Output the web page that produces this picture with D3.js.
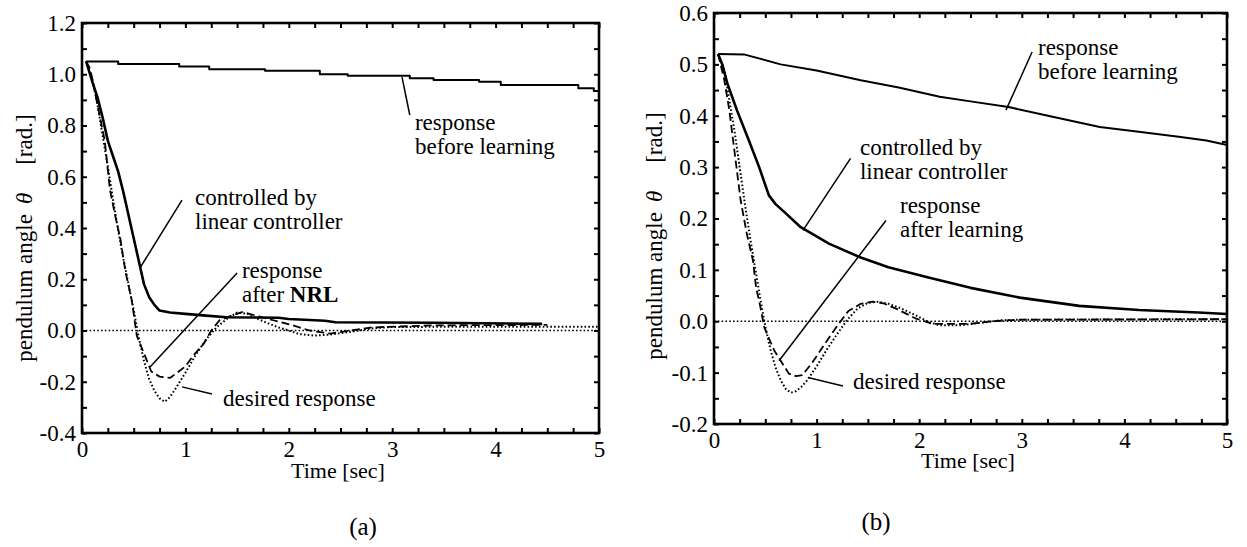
<!DOCTYPE html>
<html>
<head>
<meta charset="utf-8">
<script src="https://cdn.jsdelivr.net/npm/d3@7"></script>
<style>
  html, body { margin: 0; padding: 0; background: #fff; }
  svg { display: block; }
</style>
</head>
<body>
<div id="chart"></div>
<script>
// ---------------- DATA (time [sec], angle [rad.]) ----------------
// Panel (a)
const aBeforeLearning = [[0.04,1.05],[0.35,1.04],[0.94,1.03],[1.23,1.02],[1.77,1.014],[2.3,1.0],[2.57,0.994],[3.17,0.984],[3.4,0.978],[3.84,0.971],[4.05,0.958],[4.8,0.945],[4.95,0.935],[5.0,0.93]];
const aLinearController = [[0.04,1.05],[0.1,0.97],[0.15,0.91],[0.2,0.83],[0.25,0.74],[0.3,0.68],[0.35,0.62],[0.4,0.54],[0.45,0.45],[0.5,0.36],[0.55,0.27],[0.6,0.18],[0.65,0.13],[0.7,0.10],[0.75,0.078],[0.85,0.07],[1.0,0.065],[1.2,0.058],[1.4,0.052],[1.9,0.05],[2.0,0.045],[2.35,0.038],[2.45,0.032],[3.4,0.03],[4.45,0.026]];
const aAfterNRL = [[0.04,1.05],[0.08,1.02],[0.14,0.9],[0.22,0.74],[0.27,0.55],[0.32,0.45],[0.37,0.36],[0.42,0.23],[0.48,0.12],[0.53,-0.02],[0.6,-0.09],[0.67,-0.16],[0.75,-0.18],[0.85,-0.185],[0.92,-0.165],[1.0,-0.14],[1.08,-0.096],[1.18,-0.05],[1.25,0.0],[1.33,0.04],[1.46,0.06],[1.55,0.072],[1.72,0.054],[1.85,0.04],[2.04,0.02],[2.2,0.0],[2.4,-0.012],[2.6,0.0],[2.8,0.012],[3.4,0.02],[4.5,0.022]];
const aDesired = [[0.04,1.05],[0.1,0.98],[0.15,0.88],[0.2,0.76],[0.25,0.64],[0.3,0.51],[0.35,0.39],[0.4,0.28],[0.45,0.18],[0.5,0.08],[0.55,-0.03],[0.6,-0.12],[0.65,-0.19],[0.7,-0.235],[0.75,-0.265],[0.8,-0.278],[0.85,-0.26],[0.9,-0.23],[1.0,-0.165],[1.1,-0.095],[1.2,-0.035],[1.3,0.012],[1.4,0.045],[1.5,0.07],[1.6,0.065],[1.7,0.045],[1.8,0.028],[1.9,0.012],[2.0,0.0],[2.1,-0.014],[2.25,-0.02],[2.4,-0.016],[2.6,-0.005],[2.8,0.008],[3.0,0.014],[5.0,0.015]];
const aZero = [[0,0],[5,0]];

// Panel (b)
const bBeforeLearning = [[0.04,0.52],[0.3,0.519],[0.65,0.5],[1.0,0.488],[1.43,0.469],[1.8,0.455],[2.2,0.437],[2.5,0.428],[2.87,0.417],[3.3,0.398],[3.76,0.378],[4.1,0.37],[4.53,0.359],[4.8,0.352],[5.0,0.343]];
const bLinearController = [[0.04,0.52],[0.08,0.5],[0.13,0.463],[0.225,0.41],[0.34,0.352],[0.44,0.30],[0.535,0.245],[0.6,0.228],[0.7,0.21],[0.845,0.183],[1.0,0.165],[1.12,0.151],[1.43,0.124],[1.7,0.105],[2.09,0.085],[2.5,0.065],[2.98,0.046],[3.56,0.030],[4.14,0.022],[4.72,0.017],[5.0,0.014]];
const bAfterLearning = [[0.04,0.52],[0.1,0.47],[0.15,0.41],[0.2,0.33],[0.26,0.235],[0.32,0.17],[0.38,0.118],[0.41,0.066],[0.45,0.03],[0.49,-0.012],[0.55,-0.04],[0.59,-0.058],[0.65,-0.077],[0.73,-0.102],[0.8,-0.107],[0.86,-0.105],[0.96,-0.08],[1.08,-0.044],[1.19,-0.012],[1.31,0.02],[1.43,0.034],[1.55,0.038],[1.65,0.035],[1.78,0.024],[1.97,0.005],[2.13,-0.005],[2.5,-0.005],[2.7,0.0],[3.0,0.003],[5.0,0.004]];
const bDesired = [[0.04,0.52],[0.1,0.49],[0.15,0.43],[0.2,0.37],[0.25,0.3],[0.3,0.23],[0.35,0.165],[0.4,0.105],[0.45,0.045],[0.5,-0.01],[0.55,-0.055],[0.6,-0.09],[0.65,-0.115],[0.7,-0.132],[0.75,-0.139],[0.8,-0.136],[0.85,-0.128],[0.9,-0.117],[1.0,-0.088],[1.1,-0.055],[1.2,-0.025],[1.3,0.003],[1.4,0.025],[1.5,0.036],[1.6,0.038],[1.7,0.034],[1.8,0.027],[1.9,0.018],[2.0,0.008],[2.1,-0.002],[2.2,-0.008],[2.4,-0.008],[2.6,-0.003],[2.8,0.002],[3.0,0.003],[5.0,0.004]];
const bZero = [[0,0],[5,0]];

// Ticks
const xMajorTicks = [0,1,2,3,4,5];
const xMinorTicks = [0.25,0.5,0.75,1.25,1.5,1.75,2.25,2.5,2.75,3.25,3.5,3.75,4.25,4.5,4.75];
const aYMajorTicks = [-0.4,-0.2,0.0,0.2,0.4,0.6,0.8,1.0,1.2];
const aYMinorTicks = [-0.3,-0.1,0.1,0.3,0.5,0.7,0.9,1.1];
const bYMajorTicks = [-0.2,-0.1,0.0,0.1,0.2,0.3,0.4,0.5,0.6];
const bYMinorTicks = [-0.15,-0.05,0.05,0.15,0.25,0.35,0.45,0.55];

// Texts
const xTitle = "Time [sec]";
const yTitleParts = ["pendulum angle", "\u03B8", "[rad.]"];
const panelLetters = ["(a)", "(b)"];

// Annotations: text lines + leader line, anchored in data coordinates
const aNotes = [
  { lines: [["response"], ["before learning"]], at: [3.22, 0.782], lead: [[3.095, 0.989], [3.17, 0.841]] },
  { lines: [["controlled by"], ["linear controller"]], at: [1.093, 0.49], lead: [[0.561, 0.244], [0.967, 0.509]] },
  { lines: [["response"], ["after ", "NRL"]], at: [1.547, 0.205], lead: [[0.658, -0.142], [1.5, 0.224]] },
  { lines: [["desired response"]], at: [1.364, -0.295], lead: [[0.967, -0.22], [1.257, -0.248]] }
];
const bNotes = [
  { lines: [["response"], ["before learning"]], at: [3.158, 0.518], lead: [[2.846, 0.411], [3.1, 0.524]] },
  { lines: [["controlled by"], ["linear controller"]], at: [1.423, 0.323], lead: [[0.867, 0.177], [1.331, 0.317]] },
  { lines: [["response"], ["after learning"]], at: [1.813, 0.21], lead: [[0.634, -0.077], [1.676, 0.196]] },
  { lines: [["desired response"]], at: [1.355, -0.132], lead: [[0.926, -0.11], [1.257, -0.126]] }
];

// ---------------- LAYOUT / STYLE ----------------
const W = 1247, H = 547;
const FONT = "'Liberation Serif','Times New Roman',Times,serif";
const FS = 23;
const styles = {
  zero:    { width: 1.6, dash: "1.6,2.2" },
  desired: { width: 2.0, dash: "1.6,2.2" },
  after:   { width: 1.8, dash: "8,4" },
  linear:  { width: 2.6, dash: null },
  before:  { width: 2.0, dash: null }
};

const panels = [
  {
    box: { l: 82, r: 599, t: 23, b: 433 }, yDomain: [-0.4, 1.2],
    yMajor: aYMajorTicks, yMinor: aYMinorTicks,
    series: [
      { d: aZero, s: "zero" }, { d: aDesired, s: "desired" }, { d: aAfterNRL, s: "after" },
      { d: aLinearController, s: "linear" }, { d: aBeforeLearning, s: "before", step: true }
    ],
    notes: aNotes, letter: panelLetters[0], letterPos: [363, 535],
    xTitleX: 338, xTitleDy: 45, yTitleX: 32, yTitleY: 238, xLabelDy: 8
  },
  {
    box: { l: 714, r: 1227, t: 13, b: 424 }, yDomain: [-0.2, 0.6],
    yMajor: bYMajorTicks, yMinor: bYMinorTicks,
    series: [
      { d: bZero, s: "zero" }, { d: bDesired, s: "desired" }, { d: bAfterLearning, s: "after" },
      { d: bLinearController, s: "linear" }, { d: bBeforeLearning, s: "before" }
    ],
    notes: bNotes, letter: panelLetters[1], letterPos: [876, 530],
    xTitleX: 968, xTitleDy: 44, yTitleX: 662, yTitleY: 236, xLabelDy: 8
  }
];

const svg = d3.select("#chart").append("svg")
  .attr("width", W).attr("height", H)
  .attr("font-family", FONT);
svg.append("rect").attr("width", W).attr("height", H).attr("fill", "#fff");

const fmtY = v => (Math.abs(v) < 1e-9 ? 0 : v).toFixed(1);

panels.forEach(p => {
  const { l, r, t, b } = p.box;
  const x = d3.scaleLinear().domain([0, 5]).range([l, r]);
  const y = d3.scaleLinear().domain(p.yDomain).range([b, t]);
  const g = svg.append("g");

  function styleAxis(sel) {
    sel.select(".domain").remove();
    sel.selectAll(".tick line").attr("stroke", "#000").attr("stroke-width", 2);
    sel.selectAll("text").attr("fill", "#000").attr("font-family", FONT).attr("font-size", FS);
    sel.attr("font-family", FONT).attr("font-size", FS);
  }

  // bottom axis: major with labels, minor without
  g.append("g").attr("transform", `translate(0,${b})`)
    .call(d3.axisBottom(x).tickValues(xMajorTicks).tickSize(-5).tickPadding(p.xLabelDy).tickFormat(d3.format("d")))
    .call(styleAxis);
  g.append("g").attr("transform", `translate(0,${b})`)
    .call(d3.axisBottom(x).tickValues(xMinorTicks).tickSize(-5).tickFormat(""))
    .call(styleAxis);
  // top axis (ticks only)
  g.append("g").attr("transform", `translate(0,${t})`)
    .call(d3.axisTop(x).tickValues(xMajorTicks.concat(xMinorTicks)).tickSize(-5).tickFormat(""))
    .call(styleAxis);
  // left axis
  g.append("g").attr("transform", `translate(${l},0)`)
    .call(d3.axisLeft(y).tickValues(p.yMajor).tickSize(-5).tickPadding(6).tickFormat(fmtY))
    .call(styleAxis);
  g.append("g").attr("transform", `translate(${l},0)`)
    .call(d3.axisLeft(y).tickValues(p.yMinor).tickSize(-5).tickFormat(""))
    .call(styleAxis);
  // right axis (ticks only)
  g.append("g").attr("transform", `translate(${r},0)`)
    .call(d3.axisRight(y).tickValues(p.yMajor.concat(p.yMinor)).tickSize(-5).tickFormat(""))
    .call(styleAxis);

  // series
  p.series.forEach(sr => {
    const st = styles[sr.s];
    const line = d3.line().x(d => x(d[0])).y(d => y(d[1]))
      .curve(sr.step ? d3.curveStepAfter : d3.curveLinear);
    g.append("path").datum(sr.d)
      .attr("d", line)
      .attr("fill", "none")
      .attr("stroke", "#000")
      .attr("stroke-width", st.width)
      .attr("stroke-dasharray", st.dash)
      .attr("stroke-linejoin", "round");
  });

  // frame
  g.append("rect").attr("x", l).attr("y", t).attr("width", r - l).attr("height", b - t)
    .attr("fill", "none").attr("stroke", "#000").attr("stroke-width", 2.6);

  // annotations
  p.notes.forEach(n => {
    g.append("line")
      .attr("x1", x(n.lead[0][0])).attr("y1", y(n.lead[0][1]))
      .attr("x2", x(n.lead[1][0])).attr("y2", y(n.lead[1][1]))
      .attr("stroke", "#000").attr("stroke-width", 1.5);
    const tx = g.append("text").attr("x", x(n.at[0])).attr("y", y(n.at[1]))
      .attr("font-size", FS).attr("fill", "#000");
    n.lines.forEach((ln, i) => {
      ln.forEach((part, j) => {
        const ts = tx.append("tspan").text(part);
        if (j === 0) ts.attr("x", x(n.at[0])).attr("dy", i === 0 ? 0 : 24);
        if (part === "NRL") ts.attr("font-weight", "bold");
      });
    });
  });

  // x title
  g.append("text").attr("x", p.xTitleX).attr("y", b + p.xTitleDy)
    .attr("text-anchor", "middle").attr("font-size", 22).attr("fill", "#000")
    .text(xTitle);

  // y title
  const yt = g.append("text")
    .attr("transform", `translate(${p.yTitleX},${p.yTitleY}) rotate(-90)`)
    .attr("text-anchor", "middle").attr("font-size", FS).attr("fill", "#000");
  yt.append("tspan").text(yTitleParts[0]);
  yt.append("tspan").attr("dx", 10).attr("font-style", "italic").text(yTitleParts[1]);
  yt.append("tspan").attr("dx", 28).text(yTitleParts[2]);

  // panel letter
  g.append("text").attr("x", p.letterPos[0]).attr("y", p.letterPos[1])
    .attr("text-anchor", "middle").attr("font-size", 25).attr("fill", "#000")
    .text(p.letter);
});
</script>
</body>
</html>
